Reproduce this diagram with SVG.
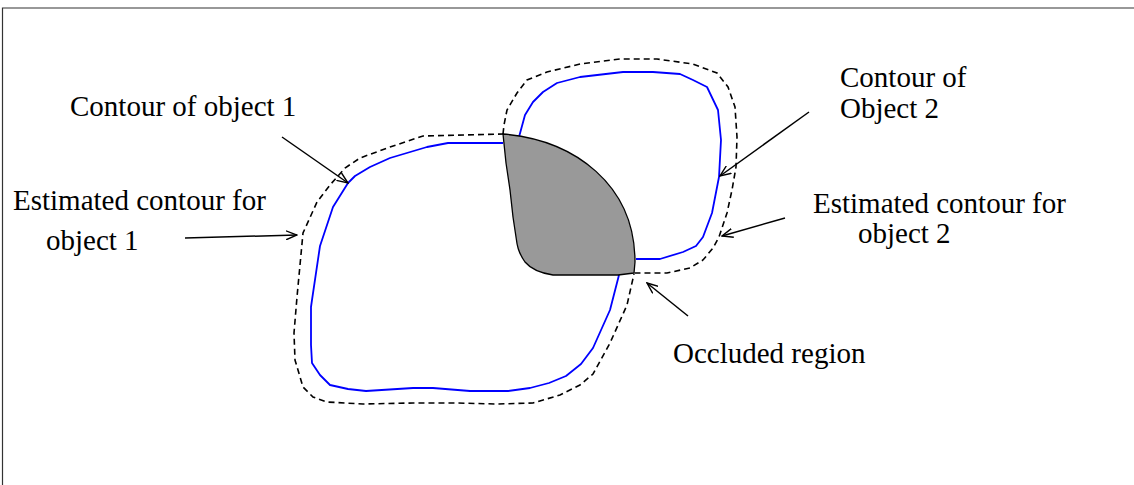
<svg xmlns="http://www.w3.org/2000/svg" width="1134" height="485" viewBox="0 0 1134 485">
<defs>
<marker id="vee" viewBox="0 0 12 10" refX="11" refY="5" markerWidth="12" markerHeight="10" markerUnits="userSpaceOnUse" orient="auto">
<path d="M0,0.5 L11,5 L0,9.5" fill="none" stroke="#000" stroke-width="1.4"/>
</marker>
</defs>
<style>
.blue{fill:none;stroke:#0000ff;stroke-width:1.8;stroke-linejoin:round}
.dash{fill:none;stroke:#000;stroke-width:1.6;stroke-dasharray:6 4}
.occ{fill:#999999;stroke:#000;stroke-width:1.3;stroke-linejoin:round}
.lbl{font-family:"Liberation Serif","Times New Roman",serif;font-size:29px;fill:#000}
.arr{fill:none;stroke:#000;stroke-width:1.5;marker-end:url(#vee)}
</style>
<rect width="1134" height="485" fill="#fff"/>
<path d="M2.5,485 V8 H1134" fill="none" stroke="#333" stroke-width="1.2"/>

<g id="object1">
<path class="blue" d="M503,143 L448,143 L427,147 L390,158 L370,167 L355,176 L348,183 L333,207 L320,246 L312,300 L311,307 L311,345 L312,363 L320,375 L330,385 L348,389 L366,391 L413,388 L433,388 L470,391 L508,391 L530,388 L549,383 L566,376 L581,364 L593,348 L610,310 L619,275"/>
<path class="dash" d="M504,134 L423,136 L390,147 L360,158 L345,168 L330,185 L317,202 L303,233 L297,297 L294,333 L295,360 L303,387 L313,397 L327,402 L363,404 L413,403 L457,403 L497,404 L533,403 L560,395 L580,385 L593,374 L610,343 L627,305 L634,274"/>
</g>

<g id="object2">
<path class="blue" d="M519,137 L525,115 L533,102 L543,92 L557,83 L580,77 L623,72 L653,72 L680,74 L693,80 L707,87 L718,110 L721,140 L719,177 L712,213 L703,237 L696,246 L683,252 L660,259 L636,259"/>
<path class="dash" d="M503,134 L504,125 L507,110 L517,93 L527,80 L547,72 L580,64 L620,59 L657,59 L693,64 L717,73 L728,87 L735,107 L737,137 L736,167 L732,190 L727,213 L719,237 L713,248 L703,260 L690,268 L667,273 L634,273"/>
</g>

<g id="occluded">
<path class="occ" d="M503,134 C575,140 635,185 635,262 L634,273 L618,275 L553,275 C540,273 530,268 525,262 C518,252 517,245 516,237 L513,217 L510,190 L506,163 Z"/>
</g>

<g id="connectors">
<line class="arr" x1="282" y1="137" x2="348" y2="183"/>
<line class="arr" x1="185" y1="238" x2="297" y2="235"/>
<line class="arr" x1="809" y1="112" x2="720" y2="176"/>
<line class="arr" x1="785" y1="218" x2="722" y2="236"/>
<line class="arr" x1="688" y1="316" x2="647" y2="283"/>
</g>

<g id="labels">
<text class="lbl" x="70" y="116">Contour of object 1</text>
<text class="lbl" x="13" y="210">Estimated contour for</text>
<text class="lbl" x="46" y="250">object 1</text>
<text class="lbl" x="840" y="87">Contour of</text>
<text class="lbl" x="840" y="118">Object 2</text>
<text class="lbl" x="813" y="213">Estimated contour for</text>
<text class="lbl" x="858" y="243">object 2</text>
<text class="lbl" x="673" y="363">Occluded region</text>
</g>
</svg>
